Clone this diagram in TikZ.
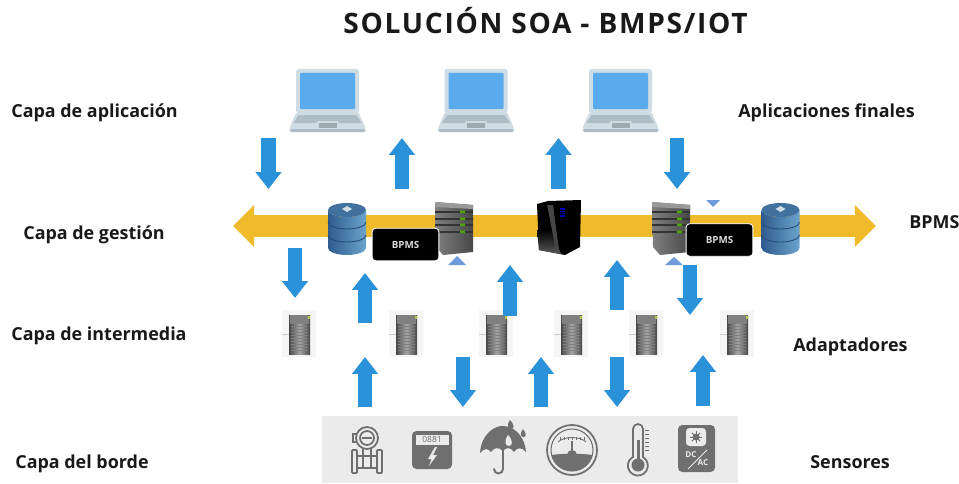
\documentclass[tikz,border=0pt]{standalone}
\usepackage{fontspec}
\setmainfont{Open Sans}
\newfontfamily\titlefont[LetterSpace=6]{Open Sans}
\usetikzlibrary{arrows.meta}
\definecolor{flowblue}{HTML}{2A92D8}
\definecolor{busgold}{HTML}{EFBB2A}
\definecolor{lidgray}{HTML}{CFDCE3}
\definecolor{keygray}{HTML}{AEBDC5}
\definecolor{screenblue}{HTML}{5AABED}
\definecolor{markblue}{HTML}{6F9BD8}
\definecolor{bandgray}{HTML}{EBEBEB}
\definecolor{icongray}{HTML}{6F6F6F}
\definecolor{dbdark}{HTML}{2F5B8E}
\definecolor{dblight}{HTML}{6BA4CC}
\definecolor{dbtop}{HTML}{41719F}
\definecolor{dbline}{HTML}{264C78}
\tikzset{
    layerlabel/.style={font=\fontsize{10.2}{12}\selectfont\bfseries, text=black!90, inner sep=0pt, anchor=base west},
    flowarrow/.style={draw=flowblue, line width=8.5pt, -{Triangle[length=9.6pt, width=14.2pt]}},
    busarrow/.style={draw=busgold, line width=12.5pt, {Triangle[length=12pt, width=23.2pt]}-{Triangle[length=12pt, width=23.2pt]}},
    bpmsbox/.style={fill=black, draw=white, line width=.5pt, rounded corners=2pt, minimum width=38pt, minimum height=18.5pt, text=white!85!black, font=\fontsize{5.6}{6}\selectfont\bfseries},
    iconline/.style={draw=icongray, line width=1pt},
    laptop/.pic={
        \fill[lidgray, rounded corners=1.5pt](-31.5, 0) rectangle (31.5, 44);
        \fill[screenblue, rounded corners=.5pt](-27.5, 4) rectangle (27.5, 40);
        \fill[lidgray, rounded corners=1pt](-31, 43)--(31, 43)--(38, 59)--(38, 63)--(-38, 63)--(-38, 59)--cycle;
        \fill[keygray](-29, 46)--(29, 46)--(34, 54)--(11, 54)--(11, 52)--(-11, 52)--(-11, 54)--(-34, 54)--cycle;
        \fill[keygray!90!black](-9, 53.5) rectangle (9, 59);
        \fill[keygray, rounded corners=1pt](-38, 60) rectangle (38, 63);
    },
    database/.pic={
        \shade[left color=dbdark, right color=dblight]
            (-19, 7)--(-19, 45) arc[start angle=180, end angle=0, x radius=19, y radius=7]--(19, 7)
            arc[start angle=0, end angle=180, x radius=19, y radius=7]--cycle;
        \fill[dbtop](0, 7) ellipse[x radius=19, y radius=7];
        \draw[dbline, line width=.5pt](-19, 19) arc[start angle=180, end angle=0, x radius=19, y radius=7];
        \draw[dbline, line width=.5pt](-19, 32) arc[start angle=180, end angle=0, x radius=19, y radius=7];
        \fill[white!75!dbtop](-5, 6)--(0, 3)--(5, 6)--(0, 9)--cycle;
    },
    rack/.pic={
        \shade[left color=black!50, right color=black!72](0, 0)--(38, 3)--(38, 50)--(8, 53)--(1, 45)--cycle;
        \fill[black!40](0, 0)--(38, 3)--(38, 7)--(0, 5)--cycle;
        \draw[black!80, line width=.6pt](0, 10)--(38, 10)(0, 17)--(38, 17)(0, 23)--(38, 23)(0, 30)--(38, 30);
        \fill[green!50!black!70!yellow](25, 8.5) rectangle (30, 11)(25, 15.5) rectangle (30, 18)(25, 21.5) rectangle (30, 24)(25, 28.5) rectangle (30, 31);
    },
    adapter/.pic={
        \fill[black!4](0, 0) rectangle (34, 47);
        \draw[gray!40, line width=.5pt](0, 24)--(7, 24);
        \shade[left color=black!72, right color=black!72, middle color=black!35](7, 5) rectangle (28, 44);
        \fill[black!50](8, 5) rectangle (27, 14);
        \foreach \y in {16, 19, 22, 25, 28, 31, 34, 37, 40}{\draw[black!50, line width=.25pt](9, \y)--(26, \y);}
        \fill[yellow!70!green!70!gray](26, 6) rectangle (28, 9);
    },
}
\begin{document}
\begin{tikzpicture}[x=.02cm, y=-.02cm]
    \useasboundingbox (0, 0) rectangle (959, 483);
    \node[font=\fontsize{16}{18}\selectfont\bfseries\titlefont, text=black!90, inner sep=0pt, anchor=base] (title) at (545.5, 34) {SOLUCIÓN SOA - BMPS/IOT};

    % labels
    \node[layerlabel] (aplicacion) at (11, 117) {Capa de aplicación};
    \node[layerlabel] (gestion) at (23, 239) {Capa de gestión};
    \node[layerlabel] (intermedia) at (11, 340) {Capa de intermedia};
    \node[layerlabel] (borde) at (15, 468) {Capa del borde};
    \node[layerlabel] (finales) at (738, 117) {Aplicaciones finales};
    \node[layerlabel] (bpms) at (909, 228) {BPMS};
    \node[layerlabel] (adaptadores) at (793, 351) {Adaptadores};
    \node[layerlabel] (sensores) at (810, 468) {Sensores};

    % laptops
    \pic at (327.5, 69) {laptop};
    \pic at (476, 69) {laptop};
    \pic at (620.5, 69) {laptop};

    % bus
    \coordinate (busl) at (233, 226);
    \coordinate (busr) at (876, 226);
    \draw[busarrow](busl)--(busr);

    \pic at (347, 203) {database};
    \pic at (780.5, 203) {database};
    \pic at (435, 202) {rack};
    \pic at (652, 202) {rack};

    % tower
    \coordinate (tower) at (537, 200);
    \begin{scope}[shift={(tower)}]
        \fill[black](0, 4)--(11, 1)--(44, 0)--(43, 47)--(28, 55)--(2, 50)--cycle;
        \shade[top color=black, bottom color=gray!70!black](0, 30)--(15, 30)--(24, 54)--(2, 50)--cycle;
        \fill[gray!55!black](10, 5)--(16, 5)--(22, 50)--(19, 50)--cycle;
        \fill[blue!70!black](23, 8) rectangle (28, 17);
        \foreach \y in {10, 12, 14}{\draw[black, line width=.3pt](23, \y)--(28, \y);}
    \end{scope}

    \node[bpmsbox] (bpmsa) at (405.5, 244.5) {BPMS};
    \node[bpmsbox] (bpmsb) at (719.5, 240) {BPMS};

    % small marks
    \fill[markblue](448, 265)--(457, 256)--(466, 265)--cycle;
    \fill[markblue](665, 265)--(674, 257)--(683, 265)--cycle;
    \fill[markblue](706, 200)--(720, 200)--(713, 207)--cycle;

    % adapters
    \pic at (282, 310) {adapter};
    \pic at (389, 310) {adapter};
    \pic at (479, 310) {adapter};
    \pic at (554, 310) {adapter};
    \pic at (629, 310) {adapter};
    \pic at (720, 310) {adapter};

    % flows, top row
    \coordinate (aps) at (268.5, 138);
    \coordinate (ape) at (268.5, 189);
    \coordinate (bps) at (402, 189);
    \coordinate (bpe) at (402, 138);
    \coordinate (cps) at (558.5, 189);
    \coordinate (cpe) at (558.5, 138);
    \coordinate (dps) at (677, 138);
    \coordinate (dpe) at (677, 189);
    \draw[flowarrow](aps)--(ape);
    \draw[flowarrow](bps)--(bpe);
    \draw[flowarrow](cps)--(cpe);
    \draw[flowarrow](dps)--(dpe);

    % flows, middle row
    \coordinate (ems) at (295, 248);
    \coordinate (eme) at (295, 298);
    \coordinate (fms) at (365, 323);
    \coordinate (fme) at (365, 273);
    \coordinate (gms) at (510, 316);
    \coordinate (gme) at (510, 265);
    \coordinate (hms) at (617, 310);
    \coordinate (hme) at (617, 260);
    \coordinate (ims) at (690, 265);
    \coordinate (ime) at (690, 315);
    \draw[flowarrow](ems)--(eme);
    \draw[flowarrow](fms)--(fme);
    \draw[flowarrow](gms)--(gme);
    \draw[flowarrow](hms)--(hme);
    \draw[flowarrow](ims)--(ime);

    % flows, bottom row
    \coordinate (jbs) at (365, 407);
    \coordinate (jbe) at (365, 357);
    \coordinate (kbs) at (463, 357);
    \coordinate (kbe) at (463, 407);
    \coordinate (lbs) at (541, 407);
    \coordinate (lbe) at (541, 357);
    \coordinate (mbs) at (617, 357);
    \coordinate (mbe) at (617, 407);
    \coordinate (nbs) at (703, 406);
    \coordinate (nbe) at (703, 355);
    \draw[flowarrow](jbs)--(jbe);
    \draw[flowarrow](kbs)--(kbe);
    \draw[flowarrow](lbs)--(lbe);
    \draw[flowarrow](mbs)--(mbe);
    \draw[flowarrow](nbs)--(nbe);

    % sensors
    \fill[bandgray](322, 416) rectangle (738, 483);

    % flow meter
    \draw[iconline](367, 438) circle(11);
    \draw[iconline](367, 438) circle(7);
    \fill[icongray](362, 437) rectangle (372, 439);
    \draw[iconline](356, 434)--(353, 434)--(353, 442)--(356, 442);
    \draw[iconline](363, 449)--(363, 456)(371, 449)--(371, 456);
    \draw[iconline, rounded corners=.5pt](352, 450) rectangle (357, 473);
    \draw[iconline, rounded corners=.5pt](377, 450) rectangle (382, 473);
    \draw[iconline](357, 456)--(377, 456)(357, 468)--(377, 468);
    \draw[iconline](363, 456)--(363, 468)(371, 456)--(371, 468);

    % power meter
    \fill[icongray, rounded corners=2.5pt](412, 431) rectangle (452, 469);
    \draw[bandgray, line width=.5pt, fill=bandgray](416, 435) rectangle (448, 444);
    \node[font=\fontsize{4.8}{5}\selectfont, text=icongray, inner sep=0pt] (display) at (432, 439.5) {0881};
    \fill[bandgray](435, 447)--(428, 459)--(431.5, 459)--(429, 466)--(437, 455)--(433, 455)--(437, 447)--cycle;

    % umbrella
    \fill[icongray](480, 453) .. controls (481, 435) and (494, 425) .. (504, 426) .. controls (516, 427) and (525, 438) .. (526, 452) .. controls (522, 447) and (517, 447) .. (514, 452) .. controls (511, 447) and (506, 447) .. (503, 451) .. controls (499, 447) and (494, 447) .. (491, 452) .. controls (488, 448) and (484, 448) .. (480, 453)--cycle;
    \draw[iconline, line cap=round, line width=1.1pt](503, 449)--(503, 469) arc[start angle=0, end angle=180, radius=4.5];
    \fill[bandgray](508, 435) .. controls (504, 441) and (505, 446) .. (509, 446) .. controls (513, 446) and (513, 440) .. (508, 435)--cycle;
    \fill[icongray](510, 420) .. controls (507, 424) and (507, 429) .. (511, 429) .. controls (515, 429) and (514, 424) .. (510, 420)--cycle;
    \fill[icongray](523, 429) .. controls (520, 433) and (520, 437) .. (523.5, 437) .. controls (527, 437) and (526, 433) .. (523, 429)--cycle;

    % gauge
    \coordinate (gauge) at (572, 450);
    \draw[iconline](gauge) circle(25);
    \draw[iconline, line width=.6pt](gauge) circle(21);
    \begin{scope}
        \clip(gauge) circle(21);
        \fill[icongray](545, 456) .. controls (560, 453) and (584, 453) .. (599, 456)--(599, 475)--(545, 475)--cycle;
    \end{scope}
    \draw[icongray, line width=.5pt](558, 442) .. controls (564, 436) and (580, 436) .. (586, 442);
    \foreach \x in {560, 564, 568, 572, 576, 580, 584}{\draw[icongray, line width=.4pt](\x, 437)--(\x, 440);}
    \draw[icongray, line width=.7pt](572, 454)--(572, 441);
    \fill[icongray](567, 455) arc[start angle=180, end angle=360, radius=5]--cycle;

    % thermometer
    \draw[iconline, fill=bandgray](633, 457)--(633, 429) arc[start angle=180, end angle=360, radius=5]--(643, 457) arc[start angle=-59, end angle=239, radius=10]--cycle;
    \fill[icongray](636.5, 440) rectangle (639.5, 460);
    \fill[icongray](638, 465) circle(6.5);
    \foreach \y in {430, 434, 438, 442, 446, 450}{\draw[icongray, line width=.5pt](645, \y)--(649, \y);}

    % inverter
    \fill[icongray, rounded corners=2.5pt](678, 425) rectangle (715, 472);
    \fill[bandgray, rounded corners=2pt](686, 428) rectangle (706, 446);
    \fill[icongray](696, 437) circle(3.5);
    \foreach \a in {0, 45, ..., 315}{\draw[icongray, line width=.5pt](696, 437)--++(\a:6);}
    \draw[bandgray, line width=.5pt](688, 469)--(707, 450);
    \node[font=\fontsize{4.6}{5}\selectfont\bfseries, text=bandgray, inner sep=0pt] (dc) at (691, 455) {DC};
    \node[font=\fontsize{4.6}{5}\selectfont\bfseries, text=bandgray, inner sep=0pt] (ac) at (703, 463) {AC};
\end{tikzpicture}
\end{document}
